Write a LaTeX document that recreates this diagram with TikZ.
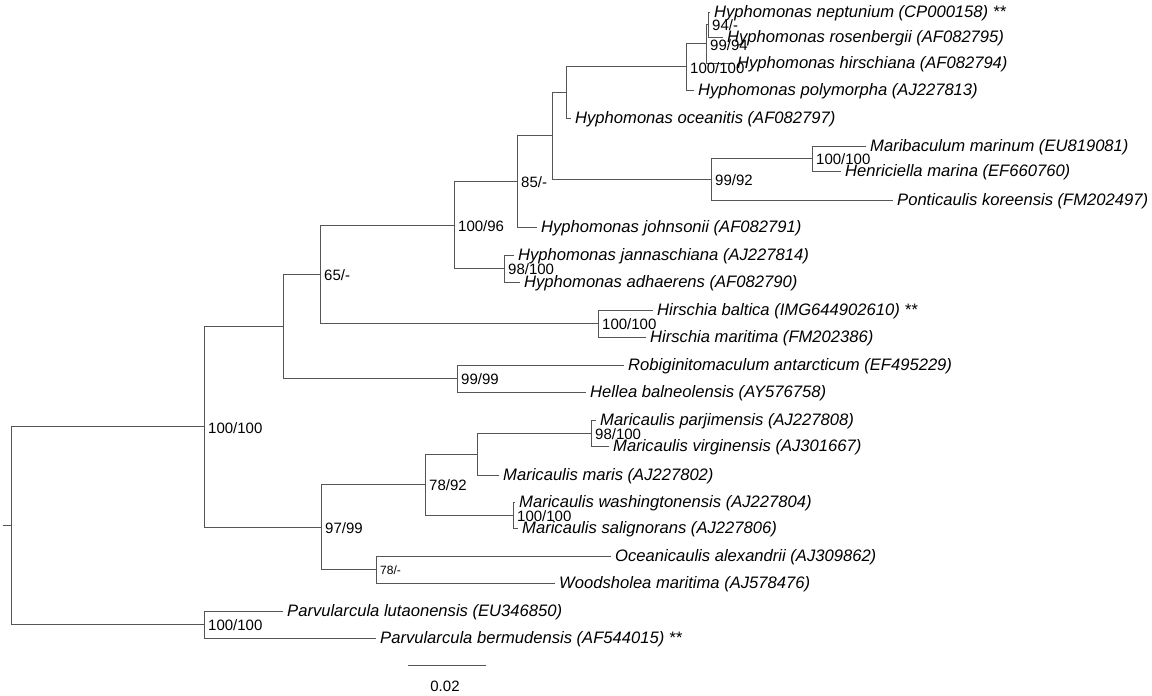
\documentclass[tikz,border=0pt]{standalone}
\usepackage{fontspec}
\setmainfont{Liberation Sans}
\definecolor{brc}{RGB}{85,85,85}
\begin{document}
\begin{tikzpicture}[x=1pt,y=-1pt,
 br/.style={draw=brc, line width=0.9pt},
 leaf/.style={anchor=west, inner sep=0pt, xshift=4pt, font=\fontsize{16.6}{18}\selectfont\itshape, text height=10pt, text depth=0pt},
 bs/.style={anchor=west, inner sep=0pt, xshift=4pt, yshift=-1pt, font=\fontsize{15}{16}\selectfont, text height=10.6pt, text depth=0pt},
 bsmall/.style={bs, font=\fontsize{12}{14}\selectfont, text height=8.6pt}]
\useasboundingbox (0,0) rectangle (1152,696);
% leaves (line ends)
\coordinate (L1) at (710,12);
\coordinate (L2) at (723,37);
\coordinate (L3) at (733,63);
\coordinate (L4) at (694,90);
\coordinate (L5) at (571,118);
\coordinate (L6) at (866,146);
\coordinate (L7) at (841,171);
\coordinate (L8) at (893,200);
\coordinate (L9) at (537,227);
\coordinate (L10) at (514,255);
\coordinate (L11) at (520,282);
\coordinate (L12) at (653,310);
\coordinate (L13) at (646,337);
\coordinate (L14) at (624,365);
\coordinate (L15) at (586,392);
\coordinate (L16) at (596,420);
\coordinate (L17) at (609,446);
\coordinate (L18) at (499,475);
\coordinate (L19) at (515,502);
\coordinate (L20) at (518,528);
\coordinate (L21) at (611,556);
\coordinate (L22) at (555,583);
\coordinate (L23) at (283,611);
\coordinate (L24) at (376,638);
% internal nodes
\coordinate (n94) at (708,24.5);
\coordinate (n9994) at (706,43.75);
\coordinate (h100) at (686,66.9);
\coordinate (n566) at (566,92.4);
\coordinate (m100) at (812,158.5);
\coordinate (n9992) at (711,179.25);
\coordinate (n552) at (552,135.8);
\coordinate (n85) at (517,181.4);
\coordinate (n98H) at (504,268.5);
\coordinate (n10096) at (454,225);
\coordinate (hir) at (598,323.5);
\coordinate (n65) at (320,274.2);
\coordinate (n9999) at (457,378.5);
\coordinate (nA) at (283,326.4);
\coordinate (n98M) at (591,433);
\coordinate (n477) at (477,454);
\coordinate (w100) at (513,515);
\coordinate (n7892) at (425,484.5);
\coordinate (n78) at (376,569.5);
\coordinate (n9799) at (321,527);
\coordinate (main) at (204,426.7);
\coordinate (parv) at (204,624.5);
\coordinate (root) at (11,525.6);
\coordinate (r0) at (3,525.6);
% branches
\draw[br] (r0) -- (root);
\draw[br] (root) |- (main);
\draw[br] (root) |- (parv);
\draw[br] (parv) |- (L23);
\draw[br] (parv) |- (L24);
\draw[br] (main) |- (nA);
\draw[br] (main) |- (n9799);
\draw[br] (nA) |- (n65);
\draw[br] (nA) |- (n9999);
\draw[br] (n9999) |- (L14);
\draw[br] (n9999) |- (L15);
\draw[br] (n65) |- (n10096);
\draw[br] (n65) |- (hir);
\draw[br] (hir) |- (L12);
\draw[br] (hir) |- (L13);
\draw[br] (n10096) |- (n85);
\draw[br] (n10096) |- (n98H);
\draw[br] (n98H) |- (L10);
\draw[br] (n98H) |- (L11);
\draw[br] (n85) |- (n552);
\draw[br] (n85) |- (L9);
\draw[br] (n552) |- (n566);
\draw[br] (n552) |- (n9992);
\draw[br] (n9992) |- (m100);
\draw[br] (n9992) |- (L8);
\draw[br] (m100) |- (L6);
\draw[br] (m100) |- (L7);
\draw[br] (n566) |- (h100);
\draw[br] (n566) |- (L5);
\draw[br] (h100) |- (n9994);
\draw[br] (h100) |- (L4);
\draw[br] (n9994) |- (n94);
\draw[br] (n9994) |- (L3);
\draw[br] (n94) |- (L1);
\draw[br] (n94) |- (L2);
\draw[br] (n9799) |- (n7892);
\draw[br] (n9799) |- (n78);
\draw[br] (n7892) |- (n477);
\draw[br] (n7892) |- (w100);
\draw[br] (n477) |- (n98M);
\draw[br] (n477) |- (L18);
\draw[br] (n98M) |- (L16);
\draw[br] (n98M) |- (L17);
\draw[br] (w100) |- (L19);
\draw[br] (w100) |- (L20);
\draw[br] (n78) |- (L21);
\draw[br] (n78) |- (L22);
% support values
\node[bs] (b1) at (n94) {94/-};
\node[bs] (b2) at (n9994) {99/94};
\node[bs] (b3) at (h100) {100/100};
\node[bs] (b4) at (n85) {85/-};
\node[bs] (b5) at (n9992) {99/92};
\node[bs] (b6) at (m100) {100/100};
\node[bs] (b7) at (n10096) {100/96};
\node[bs] (b8) at (n98H) {98/100};
\node[bs] (b9) at (n65) {65/-};
\node[bs] (b10) at (hir) {100/100};
\node[bs] (b11) at (n9999) {99/99};
\node[bs] (b12) at (main) {100/100};
\node[bs] (b13) at (n98M) {98/100};
\node[bs] (b14) at (n7892) {78/92};
\node[bs] (b15) at (w100) {100/100};
\node[bs] (b16) at (n9799) {97/99};
\node[bsmall] (b17) at (n78) {78/-};
\node[bs] (b18) at (parv) {100/100};
% leaf labels
\node[leaf] (t1) at (L1) {Hyphomonas neptunium (CP000158) **};
\node[leaf] (t2) at (L2) {Hyphomonas rosenbergii (AF082795)};
\node[leaf] (t3) at (L3) {Hyphomonas hirschiana (AF082794)};
\node[leaf] (t4) at (L4) {Hyphomonas polymorpha (AJ227813)};
\node[leaf] (t5) at (L5) {Hyphomonas oceanitis (AF082797)};
\node[leaf] (t6) at (L6) {Maribaculum marinum (EU819081)};
\node[leaf] (t7) at (L7) {Henriciella marina (EF660760)};
\node[leaf] (t8) at (L8) {Ponticaulis koreensis (FM202497)};
\node[leaf] (t9) at (L9) {Hyphomonas johnsonii (AF082791)};
\node[leaf] (t10) at (L10) {Hyphomonas jannaschiana (AJ227814)};
\node[leaf] (t11) at (L11) {Hyphomonas adhaerens (AF082790)};
\node[leaf] (t12) at (L12) {Hirschia baltica (IMG644902610) **};
\node[leaf] (t13) at (L13) {Hirschia maritima (FM202386)};
\node[leaf] (t14) at (L14) {Robiginitomaculum antarcticum (EF495229)};
\node[leaf] (t15) at (L15) {Hellea balneolensis (AY576758)};
\node[leaf] (t16) at (L16) {Maricaulis parjimensis (AJ227808)};
\node[leaf] (t17) at (L17) {Maricaulis virginensis (AJ301667)};
\node[leaf] (t18) at (L18) {Maricaulis maris (AJ227802)};
\node[leaf] (t19) at (L19) {Maricaulis washingtonensis (AJ227804)};
\node[leaf] (t20) at (L20) {Maricaulis salignorans (AJ227806)};
\node[leaf] (t21) at (L21) {Oceanicaulis alexandrii (AJ309862)};
\node[leaf] (t22) at (L22) {Woodsholea maritima (AJ578476)};
\node[leaf] (t23) at (L23) {Parvularcula lutaonensis (EU346850)};
\node[leaf] (t24) at (L24) {Parvularcula bermudensis (AF544015) **};
% scale bar
\coordinate (s1) at (408,665);
\coordinate (s2) at (486,665);
\draw[br] (s1) -- (s2);
\node[font=\fontsize{15}{17}\selectfont, inner sep=0pt] (sl) at (445,686) {0.02};
\end{tikzpicture}
\end{document}
